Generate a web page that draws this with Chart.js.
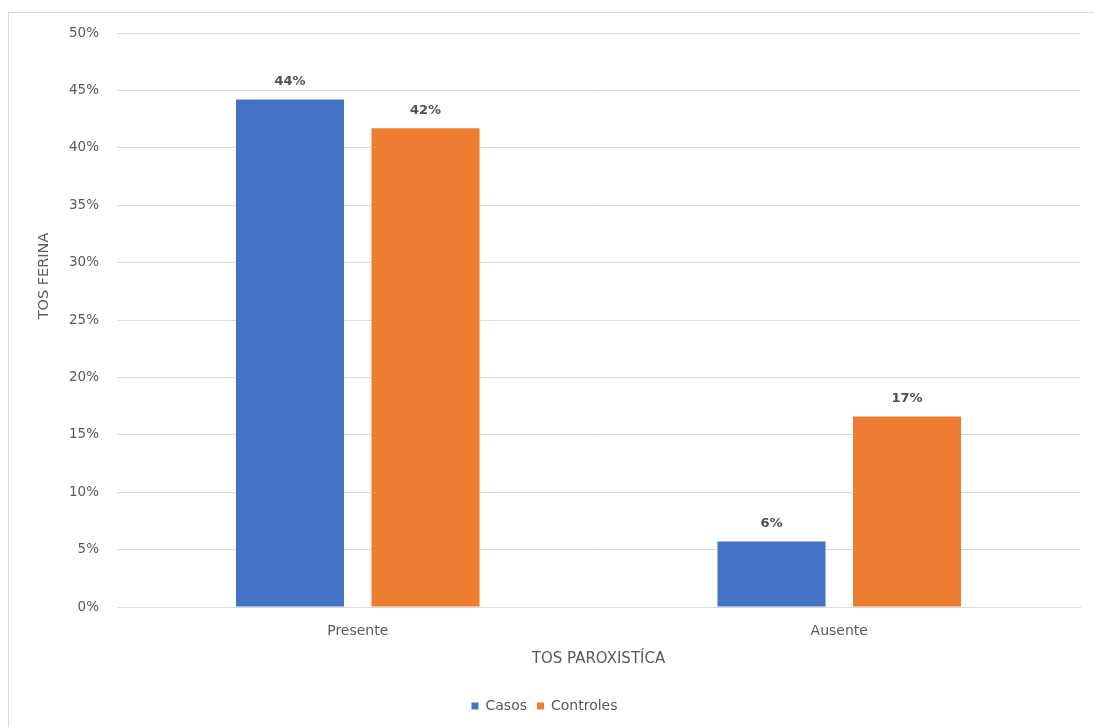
<!DOCTYPE html>
<html>
<head>
<meta charset="utf-8">
<script src="https://cdn.jsdelivr.net/npm/chart.js@4.4.1/dist/chart.umd.min.js"></script>
<style>
  html, body { margin: 0; padding: 0; background: #fff; overflow: hidden; }
  #wrap { position: relative; width: 1094px; height: 727px; }
  #frame {
    position: absolute; left: 8px; top: 12px; width: 1100px; height: 740px;
    border: 1.5px solid #d9d9d9; box-sizing: border-box;
  }
  canvas { position: absolute; left: 0; top: 0; }
</style>
</head>
<body>
<div id="wrap">
  <div id="frame"></div>
  <canvas id="chart" width="1094" height="727"></canvas>
</div>
<script>
// data
const categories = ['Presente', 'Ausente'];
const casos = [0.442, 0.057];
const controles = [0.417, 0.166];
const seriesNames = ['Casos', 'Controles'];
const xTitle = 'TOS PAROXISTÍCA';
const yTitle = 'TOS FERINA';

const FONT = '"DejaVu Sans", "Open Sans", sans-serif';
const TEXT = '#595959';

const pct = v => Math.round(v * 100) + '%';

// draws value labels above each bar and the rotated y axis title
const labelsPlugin = {
  id: 'barLabels',
  afterDatasetsDraw (chart) {
    const ctx = chart.ctx;
    ctx.save();
    ctx.font = 'bold 13px ' + FONT;
    ctx.fillStyle = '#505050';
    ctx.textAlign = 'center';
    ctx.textBaseline = 'middle';
    chart.data.datasets.forEach((ds, i) => {
      chart.getDatasetMeta(i).data.forEach((bar, j) => {
        ctx.fillText(pct(ds.data[j]), bar.x, bar.y - 18);
      });
    });

    const area = chart.chartArea;
    ctx.font = '14.5px ' + FONT;
    ctx.fillStyle = TEXT;
    ctx.translate(area.left - 73, (area.top + area.bottom) / 2 - 44);
    ctx.rotate(-Math.PI / 2);
    ctx.fillText(yTitle, 0, 0);
    ctx.restore();
  }
};

new Chart(document.getElementById('chart'), {
  type: 'bar',
  data: {
    labels: categories,
    datasets: [
      { label: seriesNames[0], data: casos, backgroundColor: '#4472C4' },
      { label: seriesNames[1], data: controles, backgroundColor: '#ED7D31' }
    ]
  },
  options: {
    responsive: false,
    animation: false,
    devicePixelRatio: 1,
    categoryPercentage: 0.563,
    barPercentage: 0.797,
    layout: { padding: { left: 9, top: 33, right: 14, bottom: 4 } },
    plugins: {
      legend: {
        position: 'bottom',
        labels: {
          boxWidth: 7, boxHeight: 7, padding: 10,
          color: TEXT, font: { family: FONT, size: 14 }
        }
      },
      tooltip: { enabled: false }
    },
    scales: {
      x: {
        grid: { display: false },
        border: { color: '#d9d9d9' },
        ticks: { color: TEXT, font: { family: FONT, size: 14 }, padding: 8 },
        title: {
          display: true, text: xTitle, color: TEXT,
          font: { family: FONT, size: 15 }, padding: { top: 0, bottom: 21 }
        },
        afterFit: s => { s.height = 82; }
      },
      y: {
        min: 0, max: 0.5,
        grid: { color: '#d9d9d9', drawTicks: false },
        border: { display: false },
        ticks: {
          stepSize: 0.05, padding: 18, color: TEXT,
          font: { family: FONT, size: 13.5 },
          callback: v => pct(v)
        },
        afterFit: s => { s.width = 108; }
      }
    }
  },
  plugins: [labelsPlugin]
});
</script>
</body>
</html>
